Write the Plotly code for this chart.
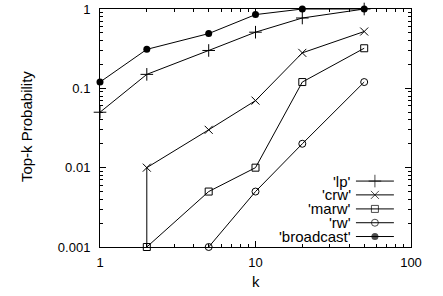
import plotly.graph_objects as go

# ---- data ----
k_lp = [1, 2, 5, 10, 20, 50]
p_lp = [0.05, 0.15, 0.30, 0.51, 0.77, 1.0]

k_crw = [2, 2, 5, 10, 20, 50]
p_crw = [0.0001, 0.01, 0.03, 0.07, 0.28, 0.52]

k_marw = [2, 5, 10, 20, 50]
p_marw = [0.001, 0.005, 0.01, 0.12, 0.32]

k_rw = [5, 10, 20, 50]
p_rw = [0.001, 0.005, 0.02, 0.12]

k_bc = [1, 2, 5, 10, 20, 50]
p_bc = [0.12, 0.31, 0.49, 0.85, 1.0, 1.0]

series_names = ["'lp'", "'crw'", "'marw'", "'rw'", "'broadcast'"]

x_tickvals = [1, 10, 100]
x_ticktext = ["1", "10", "100"]
y_tickvals = [0.001, 0.01, 0.1, 1]
y_ticktext = ["0.001", "0.01", "0.1", "1"]
x_title = "k"
y_title = "Top-k Probability"

FONT = "Liberation Sans, Arial, Helvetica, sans-serif"
BLACK = "#000000"
TICK_SIZE = 13
TEXT_SIZE = 15

styles = [
    dict(symbol="cross-thin", size=9, color=BLACK, line=dict(width=1, color=BLACK)),
    dict(symbol="x-thin", size=8, color=BLACK, line=dict(width=1, color=BLACK)),
    dict(symbol="square-open", size=7, color=BLACK, line=dict(width=1, color=BLACK)),
    dict(symbol="circle-open", size=7, color=BLACK, line=dict(width=1, color=BLACK)),
    dict(symbol="circle", size=7, color=BLACK, line=dict(width=0, color=BLACK)),
]
data = [(k_lp, p_lp), (k_crw, p_crw), (k_marw, p_marw), (k_rw, p_rw), (k_bc, p_bc)]

fig = go.Figure()
for (xs, ys), name, st in zip(data, series_names, styles):
    fig.add_trace(go.Scatter(
        x=xs, y=ys, mode="lines+markers", name=name,
        line=dict(color=BLACK, width=1), marker=st,
        cliponaxis=(name == "'crw'"), showlegend=False,
    ))

# custom gnuplot-style legend (text left, sample right), in plot-area fractions
leg_x0, leg_xm, leg_x1 = 0.823, 0.884, 0.945
leg_rows = [0.277, 0.219, 0.160, 0.102, 0.044]
for name, st, ry in zip(series_names, styles, leg_rows):
    m = dict(st)
    m["size"] = [0, st["size"], 0]
    fig.add_trace(go.Scatter(
        x=[leg_x0, leg_xm, leg_x1], y=[ry, ry, ry], xaxis="x2", yaxis="y2",
        mode="lines+markers", line=dict(color=BLACK, width=1), marker=m,
        showlegend=False, hoverinfo="skip", cliponaxis=False,
    ))
    fig.add_annotation(
        x=leg_x0 - 0.01, y=ry, xref="x2", yref="y2", text=name,
        showarrow=False, xanchor="right", yanchor="middle",
        font=dict(family=FONT, size=TEXT_SIZE, color=BLACK),
    )

# axis titles
fig.add_annotation(x=0.5, y=-0.145, xref="x2 domain", yref="y2 domain", text=x_title,
                   showarrow=False, xanchor="center", yanchor="middle",
                   font=dict(family=FONT, size=TEXT_SIZE, color=BLACK))
fig.add_annotation(x=-0.238, y=0.508, xref="x2 domain", yref="y2 domain", text=y_title,
                   showarrow=False, xanchor="center", yanchor="middle", textangle=-90,
                   font=dict(family=FONT, size=TEXT_SIZE, color=BLACK))

axis_common = dict(
    showgrid=False, zeroline=False, showline=True, linecolor=BLACK, linewidth=1,
    mirror="allticks", ticks="inside", ticklen=6, tickcolor=BLACK, tickwidth=1,
    tickfont=dict(family=FONT, size=TICK_SIZE, color=BLACK), automargin=False,
    minor=dict(ticks="inside", ticklen=3, tickcolor=BLACK, dtick="D1", showgrid=False),
)

fig.update_layout(
    width=443, height=296,
    margin=dict(l=100, r=32, t=9, b=49),
    paper_bgcolor="white", plot_bgcolor="white",
    showlegend=False,
    font=dict(family=FONT, size=TICK_SIZE, color=BLACK),
    xaxis=dict(type="log", range=[0, 2], tickvals=x_tickvals, ticktext=x_ticktext,
               ticklabelstandoff=3, **axis_common),
    yaxis=dict(type="log", range=[-3, 0], tickvals=y_tickvals, ticktext=y_ticktext,
               ticklabelstandoff=6, **axis_common),
    xaxis2=dict(overlaying="x", range=[0, 1], visible=False, fixedrange=True),
    yaxis2=dict(overlaying="y", range=[0, 1], visible=False, fixedrange=True),
)

fig.write_html("out.html", config={"displayModeBar": False},
               post_script="document.body.style.margin='0';document.body.style.overflow='hidden';")
